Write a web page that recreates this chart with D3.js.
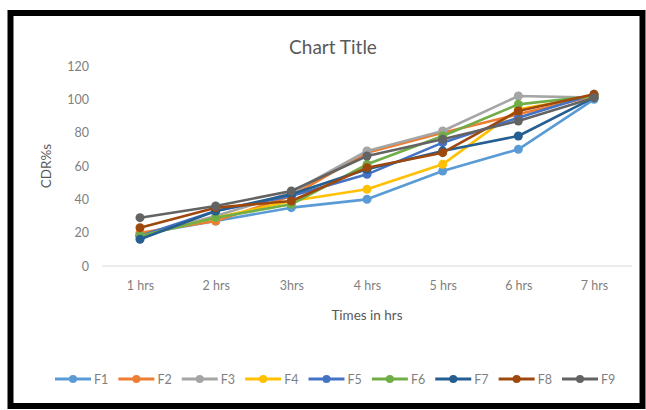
<!DOCTYPE html>
<html>
<head>
<meta charset="utf-8">
<script src="https://cdn.jsdelivr.net/npm/d3@7"></script>
<style>
  html, body { margin: 0; padding: 0; background: #fff; }
  svg { display: block; font-family: Lato, "Open Sans", sans-serif; }
</style>
</head>
<body>
<svg id="chart" width="646" height="410"></svg>
<script>
// Sampling times and formulation series (CDR %)
const categories = ["1 hrs", "2 hrs", "3hrs", "4 hrs", "5 hrs", "6 hrs", "7 hrs"];
const seriesNames = ["F1", "F2", "F3", "F4", "F5", "F6", "F7", "F8", "F9"];
const F1 = [19, 27, 35, 40, 57, 70, 100];
const F2 = [20, 27, 42, 68, 80, 91, 102];
const F3 = [18, 30, 44, 69, 81, 102, 101];
const F4 = [18, 29, 39, 46, 61, 94, 102];
const F5 = [18, 33, 42, 55, 74, 89, 103];
const F6 = [18, 29, 37, 61, 78, 97, 102];
const F7 = [16, 33, 43, 58, 69, 78, 101];
const F8 = [23, 35, 39, 59, 68, 93, 103];
const F9 = [29, 36, 45, 66, 76, 87, 101];
const yTicks = [0, 20, 40, 60, 80, 100, 120];
const colors = ["#5B9BD5", "#ED7D31", "#A5A5A5", "#FFC000", "#4472C4", "#70AD47", "#255E91", "#9E480E", "#636363"];

const seriesValues = [F1, F2, F3, F4, F5, F6, F7, F8, F9];

const svg = d3.select("#chart");

// outer frame
svg.append("rect")
  .attr("x", 10.5).attr("y", 13).attr("width", 632).attr("height", 393)
  .attr("fill", "#fff").attr("stroke", "#000").attr("stroke-width", 6);

const plot = { left: 102, right: 632, top: 66, bottom: 266 };

const x = d3.scalePoint().domain(categories).range([140, 594]);
const y = d3.scaleLinear().domain([0, 120]).range([plot.bottom, plot.top]);

// title
svg.append("text")
  .attr("x", 333).attr("y", 54)
  .attr("text-anchor", "middle")
  .attr("font-size", 19).attr("fill", "#595959")
  .text("Chart Title");

// y axis labels
const yAxis = d3.axisLeft(y).tickValues(yTicks).tickSize(0).tickPadding(0);
const gy = svg.append("g").attr("transform", "translate(89,0)").call(yAxis);
gy.select(".domain").remove();
gy.selectAll("text").attr("font-size", 12.5).attr("fill", "#7f7f7f")
  .attr("font-family", "Lato, 'Open Sans', sans-serif");

// baseline
svg.append("line")
  .attr("x1", plot.left).attr("x2", plot.right)
  .attr("y1", y(0)).attr("y2", y(0))
  .attr("stroke", "#d9d9d9").attr("stroke-width", 1.2);

// x axis labels
const xAxis = d3.axisBottom(x).tickSize(0).tickPadding(15);
const gx = svg.append("g").attr("transform", `translate(0,${y(0)})`).call(xAxis);
gx.select(".domain").remove();
gx.selectAll("text").attr("font-size", 12.5).attr("fill", "#7f7f7f")
  .attr("font-family", "Lato, 'Open Sans', sans-serif");

// axis titles
svg.append("text")
  .attr("x", 367).attr("y", 320)
  .attr("text-anchor", "middle")
  .attr("font-size", 13.5).attr("fill", "#595959")
  .text("Times in hrs");

svg.append("text")
  .attr("transform", `translate(51,166) rotate(-90)`)
  .attr("text-anchor", "middle")
  .attr("font-size", 13.5).attr("fill", "#595959")
  .text("CDR%s");

// series lines and markers
const line = d3.line()
  .x((d, i) => x(categories[i]))
  .y(d => y(d));

seriesValues.forEach((vals, si) => {
  const g = svg.append("g");
  g.append("path")
    .datum(vals)
    .attr("d", line)
    .attr("fill", "none")
    .attr("stroke", colors[si])
    .attr("stroke-width", 2.6)
    .attr("stroke-linejoin", "round");
  g.selectAll("circle")
    .data(vals)
    .join("circle")
    .attr("cx", (d, i) => x(categories[i]))
    .attr("cy", d => y(d))
    .attr("r", 4.5)
    .attr("fill", colors[si]);
});

// legend
const legendX = d3.scalePoint().domain(seriesNames).range([55, 562]);
const lg = svg.append("g").attr("transform", "translate(0,379)");
seriesNames.forEach((name, si) => {
  const x0 = legendX(name);
  lg.append("line")
    .attr("x1", x0).attr("x2", x0 + 36)
    .attr("y1", 0).attr("y2", 0)
    .attr("stroke", colors[si]).attr("stroke-width", 3);
  lg.append("circle")
    .attr("cx", x0 + 18).attr("cy", 0).attr("r", 4)
    .attr("fill", colors[si]);
  lg.append("text")
    .attr("x", x0 + 39).attr("y", 4.5)
    .attr("font-size", 12.5).attr("fill", "#7f7f7f")
    .text(name);
});
</script>
</body>
</html>
